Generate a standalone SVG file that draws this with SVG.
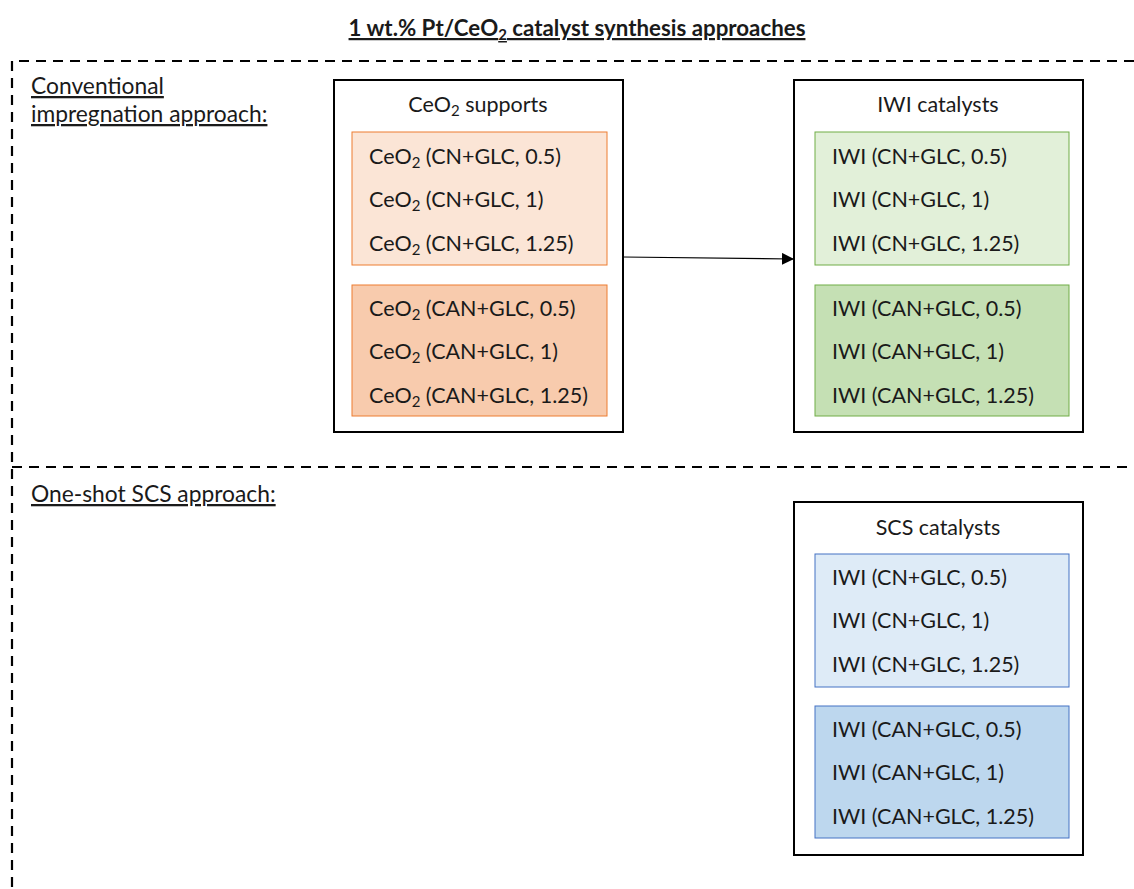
<svg xmlns="http://www.w3.org/2000/svg" width="1134" height="889" viewBox="0 0 1134 889">
<style>
text{font-family:Lato,"Liberation Sans",sans-serif;font-size:21.5px;fill:#1a1a1a}
.ttl{font-weight:bold;text-decoration:underline;font-size:22.3px}
.sec{text-decoration:underline;font-size:22.8px}
.dash{fill:none;stroke:#000;stroke-width:2.2;stroke-dasharray:10 7}
.outer{fill:#fff;stroke:#000;stroke-width:2}
.mid{text-anchor:middle}
.o1{fill:#FBE5D6;stroke:#ED7D31;stroke-width:1}
.o2{fill:#F8CBAD;stroke:#ED7D31;stroke-width:1}
.g1{fill:#E2F0D9;stroke:#70AD47;stroke-width:1}
.g2{fill:#C5E0B4;stroke:#70AD47;stroke-width:1}
.b1{fill:#DEEBF7;stroke:#4472C4;stroke-width:1}
.b2{fill:#BDD7EE;stroke:#4472C4;stroke-width:1}
.sub{font-size:15px}
</style>
<defs>
<marker id="arr" markerWidth="12" markerHeight="12" refX="11" refY="6" orient="auto" markerUnits="userSpaceOnUse" viewBox="0 0 12 12">
<path d="M0,0 L12,6 L0,12 z" fill="#000"/>
</marker>
</defs>
<rect width="1134" height="889" fill="#fff"/>
<text class="ttl mid" x="577" y="36">1 wt.% Pt/CeO<tspan class="sub" dy="4">2</tspan><tspan dy="-4"> catalyst synthesis approaches</tspan></text>
<g id="frame">
<path class="dash" d="M1134,61 H12 V889"/>
<path class="dash" d="M12,467 H1134"/>
<text class="sec" x="31" y="94">Conventional</text>
<text class="sec" x="31" y="122">impregnation approach:</text>
<text class="sec" x="31" y="502">One-shot SCS approach:</text>
</g>
<g id="ceo2-supports">
<rect class="outer" x="334" y="80" width="289" height="352"/>
<text class="mid" x="478" y="112">CeO<tspan class="sub" dy="4">2</tspan><tspan dy="-4"> supports</tspan></text>
<rect class="o1" x="352" y="132" width="255" height="133"/>
<text x="369" y="164">CeO<tspan class="sub" dy="4">2</tspan><tspan dy="-4"> (CN+GLC, 0.5)</tspan></text>
<text x="369" y="207">CeO<tspan class="sub" dy="4">2</tspan><tspan dy="-4"> (CN+GLC, 1)</tspan></text>
<text x="369" y="251">CeO<tspan class="sub" dy="4">2</tspan><tspan dy="-4"> (CN+GLC, 1.25)</tspan></text>
<rect class="o2" x="352" y="285" width="255" height="131"/>
<text x="369" y="316">CeO<tspan class="sub" dy="4">2</tspan><tspan dy="-4"> (CAN+GLC, 0.5)</tspan></text>
<text x="369" y="359">CeO<tspan class="sub" dy="4">2</tspan><tspan dy="-4"> (CAN+GLC, 1)</tspan></text>
<text x="369" y="403">CeO<tspan class="sub" dy="4">2</tspan><tspan dy="-4"> (CAN+GLC, 1.25)</tspan></text>
</g>
<g id="iwi-catalysts">
<rect class="outer" x="794" y="80" width="289" height="352"/>
<text class="mid" x="938" y="112">IWI catalysts</text>
<rect class="g1" x="815" y="132" width="254" height="133"/>
<text x="832" y="164">IWI (CN+GLC, 0.5)</text>
<text x="832" y="207">IWI (CN+GLC, 1)</text>
<text x="832" y="251">IWI (CN+GLC, 1.25)</text>
<rect class="g2" x="815" y="285" width="254" height="131"/>
<text x="832" y="316">IWI (CAN+GLC, 0.5)</text>
<text x="832" y="359">IWI (CAN+GLC, 1)</text>
<text x="832" y="403">IWI (CAN+GLC, 1.25)</text>
</g>
<g id="scs-catalysts">
<rect class="outer" x="794" y="502" width="289" height="353"/>
<text class="mid" x="938" y="535">SCS catalysts</text>
<rect class="b1" x="815" y="554" width="254" height="133"/>
<text x="832" y="585">IWI (CN+GLC, 0.5)</text>
<text x="832" y="628">IWI (CN+GLC, 1)</text>
<text x="832" y="672">IWI (CN+GLC, 1.25)</text>
<rect class="b2" x="815" y="706" width="254" height="132"/>
<text x="832" y="737">IWI (CAN+GLC, 0.5)</text>
<text x="832" y="780">IWI (CAN+GLC, 1)</text>
<text x="832" y="824">IWI (CAN+GLC, 1.25)</text>
</g>
<g id="connectors">
<line x1="623" y1="257" x2="793" y2="259" stroke="#000" stroke-width="1.2" marker-end="url(#arr)"/>
</g>
</svg>
